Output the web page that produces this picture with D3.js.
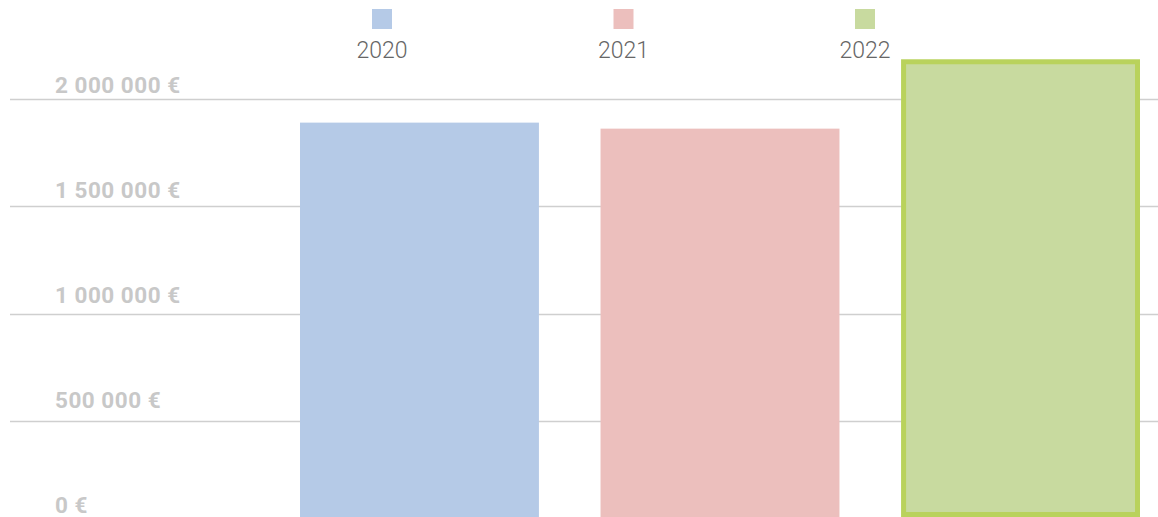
<!DOCTYPE html>
<html>
<head>
<meta charset="utf-8">
<script src="https://cdn.jsdelivr.net/npm/d3@7"></script>
<style>
  body { margin: 0; background: #fff; }
  svg { display: block; font-family: Roboto, "Noto Sans", sans-serif; }
</style>
</head>
<body>
<svg id="chart" width="1158" height="517"></svg>
<script>
// data
var years = ["2020", "2021", "2022"];
var amounts = [1890000, 1862000, 2185000];
var colors = ["#b5cae7", "#ecbfbd", "#c8da9f"];
var tickValues = [0, 500000, 1000000, 1500000, 2000000];
var selectedYear = "2022";

var W = 1158, H = 517;
var svg = d3.select("#chart");

var y = d3.scaleLinear()
    .domain([0, 2000000])
    .range([528.5, 99]);

// the labels sit on their own, slightly tighter scale
var yLabel = d3.scaleLinear()
    .domain([0, 2000000])
    .range([513, 93]);

var x = d3.scaleBand()
    .domain(years)
    .range([300, 1140])
    .paddingInner(0.205)
    .paddingOuter(0);

var color = d3.scaleOrdinal().domain(years).range(colors);

// format like "2 000 000 €"
function euro(v) {
    return d3.format(",")(v).replace(/,/g, " ") + " €";
}

// grid lines + labels
var ticks = svg.append("g").attr("class", "ticks")
    .selectAll("g")
    .data(tickValues)
    .enter()
    .append("g");

ticks.append("line")
    .attr("x1", 10)
    .attr("x2", W)
    .attr("y1", (d) => Math.round(y(d)) + 0.5)
    .attr("y2", (d) => Math.round(y(d)) + 0.5)
    .style("stroke", "#cfcfcf")
    .style("stroke-width", 1.5);

ticks.append("text")
    .attr("x", 55)
    .attr("y", (d) => yLabel(d))
    .text(euro)
    .style("fill", "#c8c8c8")
    .style("font-weight", "bold")
    .style("font-size", "22.5px")
    .style("letter-spacing", "0.5px");

// bars (clipped at the bottom of the frame)
var bars = svg.append("g").attr("class", "bars")
    .selectAll("rect")
    .data(years)
    .enter()
    .append("rect")
    .attr("x", (d) => d === selectedYear ? x(d) + 2.5 : x(d))
    .attr("width", (d) => d === selectedYear ? x.bandwidth() - 5 : x.bandwidth())
    .attr("y", (d, i) => d === selectedYear ? y(amounts[i]) + 2.5 : y(amounts[i]))
    .attr("height", (d, i) => d === selectedYear ? H - y(amounts[i]) - 5 : H - y(amounts[i]))
    .style("fill", (d) => color(d))
    .style("stroke", (d) => d === selectedYear ? "#b9d25c" : "none")
    .style("stroke-width", 5);

// legend
var legendX = d3.scalePoint()
    .domain(years)
    .range([382, 865]);

var legend = svg.append("g").attr("class", "legend")
    .selectAll("g")
    .data(years)
    .enter()
    .append("g")
    .attr("transform", (d) => "translate(" + legendX(d) + ",0)");

legend.append("rect")
    .attr("x", -10)
    .attr("y", 9)
    .attr("width", 20)
    .attr("height", 20)
    .style("fill", (d) => color(d));

legend.append("text")
    .attr("y", 58)
    .style("text-anchor", "middle")
    .style("font-size", "23px")
    .style("font-weight", 300)
    .style("fill", "#666")
    .text((d) => d);
</script>
</body>
</html>
